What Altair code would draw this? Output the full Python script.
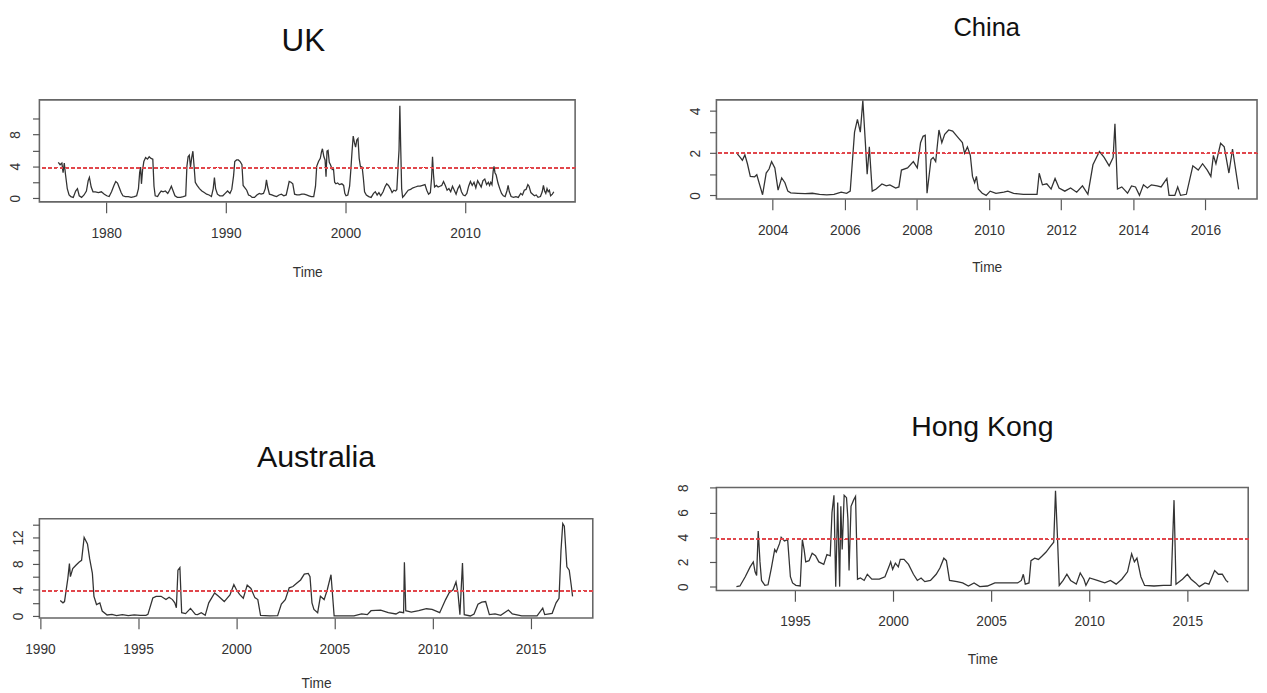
import altair as alt
import pandas as pd

FONT = "Liberation Sans"

# ---------------- UK ----------------
uk_t = [1976.00, 1976.15, 1976.30, 1976.40, 1976.50, 1976.60, 1976.75, 1976.90, 1977.05, 1977.25,
        1977.45, 1977.60, 1977.75, 1977.95, 1978.15, 1978.35, 1978.50, 1978.60, 1978.75, 1978.90,
        1979.10, 1979.35, 1979.60, 1979.85, 1980.05, 1980.25, 1980.45, 1980.65, 1980.80, 1980.95,
        1981.10, 1981.25, 1981.40, 1981.60, 1981.85, 1982.10, 1982.35, 1982.55, 1982.70, 1982.80,
        1982.88, 1982.95, 1983.05, 1983.15, 1983.30, 1983.45, 1983.60, 1983.75, 1983.90, 1984.00,
        1984.10, 1984.30, 1984.45, 1984.60, 1984.75, 1984.95, 1985.15, 1985.30, 1985.45, 1985.60,
        1985.75, 1985.95, 1986.20, 1986.45, 1986.65, 1986.75, 1986.85, 1986.95, 1987.05, 1987.15,
        1987.25, 1987.35, 1987.45, 1987.60, 1987.80, 1988.00, 1988.20, 1988.40, 1988.60, 1988.80,
        1988.95, 1989.05, 1989.15, 1989.30, 1989.50, 1989.75, 1989.95, 1990.15, 1990.35, 1990.50,
        1990.65, 1990.75, 1990.90, 1991.05, 1991.20, 1991.35, 1991.45, 1991.60, 1991.75, 1991.90,
        1992.05, 1992.20, 1992.40, 1992.60, 1992.80, 1992.95, 1993.15, 1993.30, 1993.40, 1993.50,
        1993.65, 1993.85, 1994.05, 1994.25, 1994.45, 1994.65, 1994.85, 1995.05, 1995.20, 1995.30,
        1995.45, 1995.60, 1995.75, 1995.95, 1996.15, 1996.35, 1996.55, 1996.75, 1996.95, 1997.15,
        1997.35, 1997.50, 1997.60, 1997.75, 1997.90, 1998.00, 1998.08, 1998.20, 1998.30, 1998.38,
        1998.46, 1998.55, 1998.65, 1998.75, 1998.90, 1999.00, 1999.10, 1999.20, 1999.35, 1999.50,
        1999.70, 1999.85, 1999.95, 2000.05, 2000.20, 2000.35, 2000.45, 2000.55, 2000.65, 2000.75,
        2000.85, 2000.95, 2001.05, 2001.15, 2001.25, 2001.40, 2001.50, 2001.60, 2001.75, 2001.95,
        2002.15, 2002.35, 2002.50, 2002.65, 2002.80, 2002.95, 2003.15, 2003.30, 2003.45, 2003.60,
        2003.75, 2003.90, 2004.05, 2004.20, 2004.30, 2004.40, 2004.48, 2004.55, 2004.62, 2004.70,
        2004.78, 2004.90, 2005.05, 2005.25, 2005.45, 2005.65, 2005.85, 2006.05, 2006.25, 2006.45,
        2006.65, 2006.80, 2006.95, 2007.10, 2007.20, 2007.28, 2007.36, 2007.45, 2007.60, 2007.75,
        2007.90, 2008.05, 2008.20, 2008.35, 2008.50, 2008.65, 2008.80, 2008.95, 2009.10, 2009.25,
        2009.40, 2009.55, 2009.70, 2009.85, 2010.00, 2010.15, 2010.30, 2010.45, 2010.60, 2010.75,
        2010.90, 2011.05, 2011.20, 2011.35, 2011.50, 2011.65, 2011.80, 2011.95, 2012.05, 2012.15,
        2012.25, 2012.35, 2012.42, 2012.50, 2012.60, 2012.75, 2012.90, 2013.05, 2013.20, 2013.35,
        2013.50, 2013.60, 2013.70, 2013.85, 2014.05, 2014.25, 2014.45, 2014.65, 2014.80, 2014.95,
        2015.10, 2015.25, 2015.35, 2015.50, 2015.65, 2015.80, 2015.95, 2016.10, 2016.30, 2016.45,
        2016.55, 2016.65, 2016.75, 2016.85, 2016.95, 2017.05, 2017.15, 2017.30, 2017.42]
uk_v = [4.5, 4.2, 4.4, 3.2, 4.4, 3.0, 1.2, 0.4, 0.2, 0.1,
        0.9, 1.2, 0.3, 0.1, 0.4, 0.9, 2.2, 2.6, 1.4, 0.8,
        0.8, 0.7, 0.8, 0.5, 0.3, 0.2, 0.8, 1.6, 2.1, 1.9,
        1.3, 0.7, 0.3, 0.2, 0.2, 0.1, 0.2, 0.3, 1.2, 3.2,
        3.9, 1.8, 3.6, 4.6, 5.1, 4.9, 5.2, 5.0, 4.9, 1.5,
        0.3, 0.2, 0.6, 0.9, 0.8, 0.9, 0.6, 1.0, 1.5, 0.9,
        0.3, 0.1, 0.1, 0.2, 0.3, 4.0, 5.2, 5.4, 3.9, 5.1,
        5.9, 4.0, 2.0, 1.6, 1.2, 0.9, 0.7, 0.5, 0.4, 0.2,
        1.2, 2.6, 1.2, 0.5, 0.3, 0.3, 0.6, 0.9, 0.6, 1.1,
        2.8, 4.6, 4.8, 4.8, 4.6, 4.2, 1.6, 1.3, 1.0, 0.4,
        0.3, 0.1, 0.1, 0.4, 0.6, 0.5, 0.6, 1.2, 2.3, 1.4,
        0.5, 0.4, 0.3, 0.2, 0.4, 0.5, 0.3, 0.4, 1.4, 2.1,
        2.0, 1.8, 0.5, 0.4, 0.4, 0.5, 0.5, 0.4, 0.3, 0.2,
        0.2, 1.5, 4.0, 4.6, 5.0, 5.8, 6.2, 5.2, 4.8, 2.7,
        5.9, 6.0, 4.5, 4.2, 3.6, 3.7, 2.0, 1.8, 1.9, 1.7,
        1.8, 1.6, 0.6, 0.3, 0.4, 1.5, 3.5, 5.8, 7.8, 7.0,
        6.4, 7.3, 7.5, 5.0, 4.0, 3.9, 2.5, 0.8, 0.4, 0.2,
        0.1, 0.6, 0.8, 0.4, 0.7, 0.3, 0.8, 1.4, 1.8, 1.6,
        1.2, 0.7, 1.0, 0.9, 1.1, 4.0, 6.0, 11.6, 6.5, 1.2,
        0.1, 0.3, 0.6, 1.0, 1.1, 1.3, 1.4, 1.5, 1.5, 1.6,
        1.7, 1.0, 0.5, 0.7, 2.5, 5.2, 3.0, 1.4, 1.6, 1.4,
        1.5, 1.6, 2.1, 1.6, 1.0, 1.2, 0.8, 1.5, 1.0, 0.5,
        1.2, 1.6, 0.8, 0.4, 0.3, 0.6, 1.5, 2.1, 1.6, 2.0,
        1.3, 2.2, 1.8, 1.4, 2.2, 2.4, 1.7, 2.0, 1.6, 2.0,
        1.7, 3.4, 4.0, 3.2, 2.9, 1.9, 1.2, 0.6, 0.3, 0.2,
        0.9, 1.6, 0.8, 0.2, 0.1, 0.2, 0.1, 0.6, 0.4, 1.0,
        1.1, 1.7, 1.5, 0.7, 0.5, 0.3, 0.4, 0.1, 0.2, 0.8,
        1.6, 0.9, 0.6, 1.2, 0.8, 1.0, 0.3, 0.5, 0.8]

# ---------------- China ----------------
cn_t = [2003.02, 2003.10, 2003.16, 2003.23, 2003.30, 2003.38, 2003.50, 2003.56, 2003.64, 2003.72,
        2003.82, 2003.90, 2003.97, 2004.06, 2004.15, 2004.25, 2004.34, 2004.42, 2004.50, 2004.70,
        2004.90, 2005.10, 2005.30, 2005.50, 2005.70, 2005.90, 2006.05, 2006.15, 2006.27, 2006.35,
        2006.43, 2006.50, 2006.57, 2006.62, 2006.68, 2006.76, 2006.87, 2007.03, 2007.15, 2007.25,
        2007.41, 2007.50, 2007.57, 2007.74, 2007.90, 2008.01, 2008.10, 2008.17, 2008.23, 2008.28,
        2008.39, 2008.45, 2008.52, 2008.61, 2008.69, 2008.77, 2008.88, 2008.99, 2009.16, 2009.26,
        2009.32, 2009.40, 2009.48, 2009.54, 2009.60, 2009.65, 2009.70, 2009.81, 2009.92, 2010.03,
        2010.19, 2010.41, 2010.52, 2010.68, 2010.95, 2011.33, 2011.39, 2011.48, 2011.60, 2011.72,
        2011.83, 2011.94, 2012.10, 2012.26, 2012.43, 2012.59, 2012.74, 2012.88, 2013.06, 2013.19,
        2013.33, 2013.44, 2013.49, 2013.56, 2013.68, 2013.84, 2013.95, 2014.06, 2014.17, 2014.28,
        2014.39, 2014.50, 2014.66, 2014.77, 2014.93, 2014.99, 2015.15, 2015.23, 2015.31, 2015.47,
        2015.65, 2015.80, 2015.92, 2016.05, 2016.15, 2016.22, 2016.29, 2016.42, 2016.52, 2016.65,
        2016.75, 2016.92]
cn_v = [1.97, 1.80, 1.66, 1.92, 1.50, 0.90, 0.88, 0.98, 0.50, 0.03,
        1.06, 1.25, 1.60, 1.30, 0.25, 0.83, 0.60, 0.20, 0.12, 0.10,
        0.08, 0.10, 0.05, 0.02, 0.05, 0.15, 0.10, 0.20, 3.00, 3.60,
        3.00, 4.50, 2.50, 1.00, 2.30, 0.20, 0.30, 0.54, 0.45, 0.50,
        0.35, 0.40, 1.20, 1.30, 1.60, 1.30, 2.50, 2.80, 2.85, 0.10,
        1.70, 1.80, 1.60, 3.10, 2.50, 2.90, 3.10, 3.05, 2.70, 2.50,
        2.00, 2.30, 1.90, 0.90, 0.60, 0.90, 0.30, 0.10, 0.00, 0.20,
        0.10, 0.15, 0.20, 0.10, 0.05, 0.05, 1.05, 0.50, 0.55, 0.30,
        0.80, 0.35, 0.20, 0.35, 0.15, 0.45, 0.05, 1.45, 2.08, 1.80,
        1.40, 1.80, 3.40, 0.30, 0.40, 0.10, 0.45, 0.40, 0.00, 0.50,
        0.35, 0.50, 0.45, 0.40, 0.80, 0.00, 0.00, 0.40, 0.00, 0.05,
        1.40, 1.20, 1.50, 1.20, 0.90, 1.90, 1.50, 2.47, 2.30, 1.06,
        2.20, 0.28]

# ---------------- Australia ----------------
au_t = [1991.03, 1991.17, 1991.25, 1991.42, 1991.50, 1991.55, 1991.67, 1991.83, 1992.00, 1992.12,
        1992.25, 1992.42, 1992.53, 1992.67, 1992.75, 1992.88, 1993.05, 1993.17, 1993.42, 1993.67,
        1993.90, 1994.20, 1994.50, 1994.80, 1995.10, 1995.40, 1995.50, 1995.75, 1995.92, 1996.17,
        1996.42, 1996.58, 1996.75, 1996.87, 1996.95, 1997.03, 1997.13, 1997.22, 1997.42, 1997.67,
        1997.92, 1998.03, 1998.22, 1998.42, 1998.60, 1998.90, 1999.10, 1999.39, 1999.68, 1999.88,
        2000.01, 2000.17, 2000.36, 2000.56, 2000.75, 2000.95, 2001.10, 2001.24, 2001.72, 2002.11,
        2002.30, 2002.50, 2002.70, 2002.89, 2003.08, 2003.28, 2003.47, 2003.67, 2003.76, 2003.86,
        2003.96, 2004.15, 2004.29, 2004.48, 2004.64, 2004.83, 2004.99, 2005.50, 2006.00, 2006.39,
        2006.68, 2006.87, 2007.36, 2007.75, 2008.14, 2008.33, 2008.53, 2008.57, 2008.64, 2008.92,
        2009.30, 2009.69, 2009.98, 2010.37, 2010.67, 2010.86, 2011.05, 2011.20, 2011.30, 2011.40,
        2011.53, 2011.62, 2011.93, 2012.12, 2012.32, 2012.51, 2012.71, 2012.90, 2013.19, 2013.48,
        2013.87, 2014.07, 2014.55, 2015.33, 2015.62, 2015.72, 2016.10, 2016.30, 2016.45, 2016.55,
        2016.64, 2016.72, 2016.85, 2016.97, 2017.08, 2017.14]
au_v = [2.35, 2.0, 2.2, 5.75, 8.0, 6.0, 7.25, 7.75, 8.25, 8.5,
        12.0, 11.0, 8.75, 6.5, 3.0, 1.75, 2.0, 0.75, 0.15, 0.25,
        0.05, 0.2, 0.05, 0.15, 0.1, 0.1, 0.25, 2.75, 3.0, 3.0,
        2.5, 2.85, 2.5, 2.0, 1.25, 7.0, 7.4, 0.5, 0.35, 1.15,
        0.25, 0.2, 0.5, 0.1, 2.0, 3.5, 3.0, 2.2, 3.2, 4.8,
        4.0, 3.3, 2.7, 4.7, 4.2, 2.8, 2.5, 0.1, 0.0, 0.05,
        1.8, 2.5, 4.3, 4.5, 5.0, 5.5, 6.4, 6.5, 6.0, 2.0,
        1.0, 0.5, 3.0, 2.5, 4.0, 6.3, 0.0, 0.0, 0.0, 0.3,
        0.2, 0.8, 0.9, 0.5, 0.3, 0.6, 0.5, 8.2, 0.8, 0.6,
        0.8, 1.1, 1.0, 0.5, 2.5, 3.6, 4.0, 5.2, 3.5, 0.2,
        8.1, 0.2, 0.0, 0.3, 1.8, 2.1, 2.2, 0.2, 0.3, 0.1,
        0.9, 0.3, 0.0, 0.0, 1.2, 0.2, 0.4, 2.0, 2.7, 10.0,
        14.1, 13.7, 7.5, 7.0, 4.5, 3.0]

# ---------------- Hong Kong ----------------
hk_t = [1992.02, 1992.20, 1992.47, 1992.72, 1992.88, 1992.97, 1993.05, 1993.13, 1993.22, 1993.30,
        1993.47, 1993.63, 1993.80, 1993.97, 1994.05, 1994.22, 1994.30, 1994.47, 1994.63, 1994.77,
        1994.88, 1995.05, 1995.27, 1995.38, 1995.47, 1995.55, 1995.72, 1995.88, 1996.05, 1996.22,
        1996.47, 1996.63, 1996.80, 1996.89, 1996.99, 1997.08, 1997.18, 1997.28, 1997.34, 1997.41,
        1997.51, 1997.63, 1997.70, 1997.76, 1997.86, 1997.99, 1998.09, 1998.19, 1998.34, 1998.53,
        1998.69, 1998.92, 1999.30, 1999.59, 1999.79, 1999.88, 1999.98, 2000.12, 2000.27, 2000.37,
        2000.56, 2000.79, 2001.04, 2001.24, 2001.43, 2001.62, 2001.91, 2002.20, 2002.39, 2002.59,
        2002.72, 2002.88, 2003.26, 2003.55, 2003.84, 2004.13, 2004.42, 2004.81, 2005.19, 2005.58,
        2005.97, 2006.35, 2006.54, 2006.64, 2006.74, 2006.93, 2007.03, 2007.22, 2007.41, 2007.61,
        2007.80, 2007.99, 2008.19, 2008.28, 2008.38, 2008.47, 2008.67, 2008.86, 2009.05, 2009.34,
        2009.54, 2009.73, 2009.83, 2010.02, 2010.41, 2010.79, 2011.08, 2011.37, 2011.66, 2011.95,
        2012.16, 2012.30, 2012.43, 2012.63, 2012.82, 2013.30, 2013.78, 2014.17, 2014.32, 2014.42,
        2014.75, 2015.00, 2015.19, 2015.42, 2015.61, 2015.90, 2016.10, 2016.39, 2016.58, 2016.78,
        2016.97, 2017.08]
hk_v = [0.0, 0.05, 0.8, 1.6, 2.0, 1.2, 0.9, 4.5, 2.0, 0.5,
        0.1, 0.15, 1.5, 3.0, 2.8, 3.5, 4.0, 3.7, 3.8, 0.8,
        0.3, 0.1, 0.05, 3.8, 3.0, 2.0, 2.1, 2.7, 2.5, 2.0,
        1.8, 2.6, 2.5, 6.0, 7.4, 0.0, 6.8, 0.0, 6.5, 3.0,
        7.4, 7.2, 5.5, 1.3, 6.5, 7.0, 7.3, 0.6, 0.7, 0.5,
        1.0, 0.6, 0.6, 0.8, 1.6, 2.0, 1.4, 1.9, 1.6, 2.2,
        2.2, 1.8, 1.0, 0.5, 0.7, 0.4, 0.5, 1.0, 1.5, 2.3,
        2.1, 0.5, 0.4, 0.3, 0.05, 0.3, 0.0, 0.05, 0.3, 0.3,
        0.3, 0.3, 0.5, 1.0, 0.2, 0.3, 2.1, 2.3, 2.2, 2.5,
        2.8, 3.2, 3.6, 7.75, 4.0, 0.1, 0.5, 1.0, 0.5, 0.2,
        1.1, 0.6, 0.1, 0.7, 0.5, 0.3, 0.5, 0.2, 0.6, 1.2,
        2.65, 2.0, 2.3, 0.8, 0.1, 0.05, 0.1, 0.1, 7.0, 0.2,
        0.6, 1.0, 0.6, 0.3, 0.0, 0.3, 0.2, 1.3, 1.0, 1.0,
        0.5, 0.35]

# axis ticks / labels / thresholds
uk_xticks = [1980, 1990, 2000, 2010]
cn_xticks = [2004, 2006, 2008, 2010, 2012, 2014, 2016]
au_xticks = [1990, 1995, 2000, 2005, 2010, 2015]
hk_xticks = [1995, 2000, 2005, 2010, 2015]
uk_yticks, uk_ylabels = [0, 2, 4, 6, 8, 10], [0, 4, 8]
cn_yticks, cn_ylabels = [0, 1, 2, 3, 4], [0, 2, 4]
au_yticks, au_ylabels = [0, 2, 4, 6, 8, 10, 12, 14], [0, 4, 8, 12]
hk_yticks, hk_ylabels = [0, 2, 4, 6, 8], [0, 2, 4, 6, 8]
thresholds = {"UK": 3.84, "China": 2.0, "Australia": 3.84, "Hong Kong": 3.84}


def panel(name, t, v, xdom, ydom, xticks, yticks, ylabels, width, height,
          title_size, title_offset, title_dx, ylab_pad, xtitle_pad):
    df = pd.DataFrame({"t": t, "v": v})
    lab_expr = "indexof(%s, datum.value) >= 0 ? datum.label : ''" % str(ylabels)
    x = alt.X("t:Q", scale=alt.Scale(domain=xdom, nice=False, zero=False),
              axis=alt.Axis(values=xticks, tickCount=len(xticks), format="d", title="Time",
                            tickSize=11, labelPadding=14, titlePadding=xtitle_pad,
                            labelFlush=False, labelOverlap=False))
    y = alt.Y("v:Q", scale=alt.Scale(domain=ydom, nice=False, zero=False),
              axis=alt.Axis(values=yticks, tickCount=len(yticks), labelExpr=lab_expr, title=None,
                            tickSize=7, labelAngle=270, labelAlign="center",
                            labelBaseline="bottom", labelPadding=ylab_pad,
                            labelOverlap=False, labelFlush=False))
    line = alt.Chart(df).mark_line(color="#333333", strokeWidth=1.3).encode(x=x, y=y)
    ref = alt.Chart(df).mark_rule(color="#e0474c", strokeDash=[3, 3], strokeWidth=1.4).encode(
        y=alt.Y(datum=thresholds[name]))
    title = alt.TitleParams(text=name, anchor="middle", frame="group", fontSize=title_size,
                            font=FONT, fontWeight="normal", color="#111111",
                            offset=title_offset, dx=title_dx)
    return alt.layer(line, ref).properties(width=width, height=height, title=title)


uk = panel("UK", uk_t, uk_v, [1974.42, 2019.2], [-0.47, 12.35], uk_xticks, uk_yticks, uk_ylabels,
           546, 104, 32, 43, -4, 10, 26)
cn = panel("China", cn_t, cn_v, [2002.44, 2017.43], [-0.17, 4.53], cn_xticks, cn_yticks, cn_ylabels,
           551, 101, 26, 58, 0, 7, 24)
au = panel("Australia", au_t, au_v, [1989.97, 2018.17], [-0.3, 14.84], au_xticks, au_yticks,
           au_ylabels, 564, 101, 31, 46, 0, 7, 21)
hk = panel("Hong Kong", hk_t, hk_v, [1991.0, 2018.1], [-0.31, 8.03], hk_xticks, hk_yticks,
           hk_ylabels, 542, 105, 29, 43, 0, 19, 24)

col1 = alt.vconcat(uk, au, spacing=164)
col2 = alt.vconcat(cn, hk, spacing=139)

chart = alt.hconcat(col1, col2, spacing=83).properties(
    padding={"left": 0, "top": 0, "right": 0, "bottom": 0},
    background="white",
).configure_view(
    stroke="#666666", strokeWidth=1.6
).configure_axis(
    labelFont=FONT, labelFontSize=14, labelColor="#333333",
    titleFont=FONT, titleFontSize=14, titleFontWeight="normal", titleColor="#333333",
    tickColor="#555555", tickWidth=1.2, domain=False, grid=False
)

chart.save("out.html", embed_options={"renderer": "svg", "actions": False})
